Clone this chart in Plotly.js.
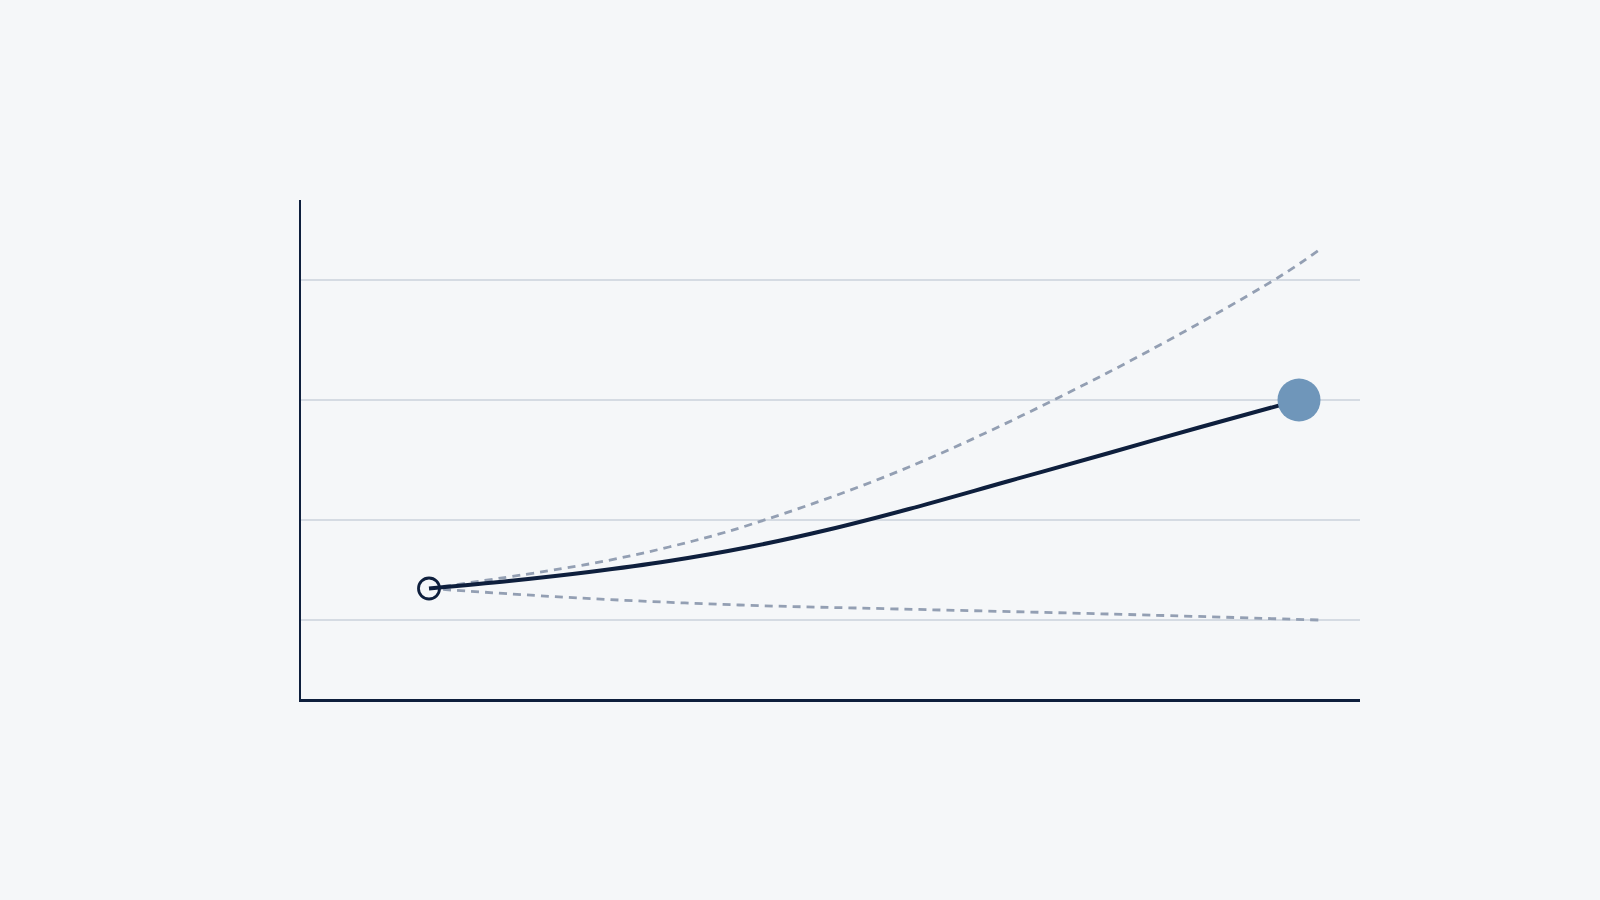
<!DOCTYPE html>
<html>
<head>
<meta charset="utf-8">
<script src="https://cdn.plot.ly/plotly-3.0.1.min.js"></script>
<style>
  html, body { margin: 0; padding: 0; background: #f5f7f9; }
  #chart { width: 1600px; height: 900px; }
</style>
</head>
<body>
<div id="chart"></div>
<script>
/* Projection fan: central path + upper/lower dashed bounds */
const mainX  = [6.5, 10.5, 14.5, 18.5, 22.5, 26.5, 30.5, 35.5, 40.5, 45, 50];
const mainY  = [22.3, 23.8, 25.6, 27.8, 30.6, 34.1, 38.2, 43.8, 49.4, 54.5, 60];
const upperX = [6.5, 14.5, 18.5, 22.5, 30.5, 40.5, 49, 51];
const upperY = [22.3, 27.2, 30.6, 35, 46.6, 65.6, 84.6, 90];
const lowerX = [6.5, 14, 22, 30, 40.5, 51];
const lowerY = [22.3, 20.4, 19, 18.2, 17.2, 16];
const gridY  = [16, 36, 60, 84];

const NAVY = '#0e1f3d', SLATE = '#939fb3', DOT = '#6f96ba', BG = '#f5f7f9';

const dashed = (x, y) => ({
  type: 'scatter', mode: 'lines', x: x, y: y, hoverinfo: 'skip',
  line: { color: SLATE, width: 2.8, dash: '8px,6px', shape: 'spline', smoothing: 1 }
});

const traces = [
  dashed(upperX, upperY),
  dashed(lowerX, lowerY),
  { type: 'scatter', mode: 'markers', x: [mainX[0]], y: [mainY[0]], hoverinfo: 'skip',
    marker: { size: 21, color: BG, line: { color: NAVY, width: 2.8 } } },
  { type: 'scatter', mode: 'lines', x: mainX, y: mainY, hoverinfo: 'skip',
    line: { color: NAVY, width: 4, shape: 'spline', smoothing: 1 } },
  { type: 'scatter', mode: 'markers', x: [mainX[mainX.length - 1]], y: [mainY[mainY.length - 1]],
    hoverinfo: 'skip', marker: { size: 43, color: DOT, line: { width: 0 } } }
];

const layout = {
  width: 1600, height: 900,
  paper_bgcolor: BG, plot_bgcolor: BG,
  margin: { l: 301, r: 240, t: 200, b: 201, pad: 0 },
  showlegend: false,
  xaxis: { range: [0.1, 53.05], showgrid: false, zeroline: false, showticklabels: false, ticks: '',
    showline: true, linecolor: NAVY, linewidth: 2.5, fixedrange: true },
  yaxis: { range: [0.2, 100], tickvals: gridY, showgrid: true, gridcolor: '#d5dbe3', gridwidth: 2.5,
    zeroline: false, showticklabels: false, ticks: '',
    showline: true, linecolor: NAVY, linewidth: 2.5, fixedrange: true }
};

Plotly.newPlot('chart', traces, layout, { displayModeBar: false, staticPlot: true });
</script>
</body>
</html>
